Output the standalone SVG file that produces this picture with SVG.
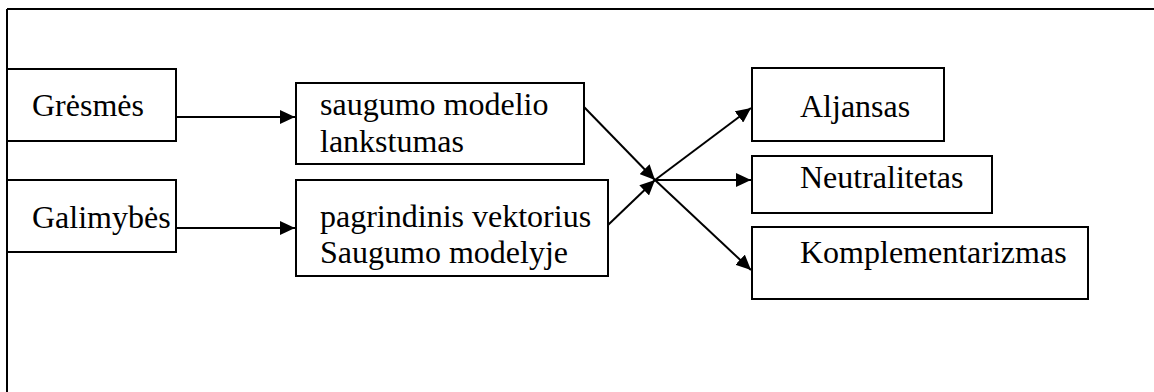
<svg xmlns="http://www.w3.org/2000/svg" width="1154" height="392" viewBox="0 0 1154 392">
<style>
.box{fill:#fff;stroke:#000;stroke-width:2}
.t{font-family:'Liberation Serif','Times New Roman',Times,'DejaVu Serif',serif;font-size:32px;fill:#000}
.c{stroke:#000;stroke-width:2;fill:none;marker-end:url(#ah)}
</style>
<defs>
<marker id="ah" markerUnits="userSpaceOnUse" markerWidth="16" markerHeight="14" refX="15" refY="7" orient="auto">
<path d="M0,0 L15,7 L0,14 z" fill="#000"/>
</marker>
</defs>
<rect width="1154" height="392" fill="#fff"/>
<g id="frame" stroke="#000" stroke-width="2" fill="none">
<line x1="7" y1="9" x2="1154" y2="9"/>
<line x1="7" y1="9" x2="7" y2="392"/>
</g>
<g id="gresmes"><rect class="box" x="7" y="69" width="169" height="72"/><text class="t" x="32" y="116" font-family="Liberation Serif">Grėsmės</text></g>
<g id="galimybes"><rect class="box" x="7" y="180" width="169" height="72"/><text class="t" x="32" y="228" font-family="Liberation Serif">Galimybės</text></g>
<g id="lankstumas"><rect class="box" x="296" y="83" width="288" height="81"/><text class="t" x="320" y="115" font-family="Liberation Serif">saugumo modelio</text><text class="t" x="320" y="152" font-family="Liberation Serif">lankstumas</text></g>
<g id="vektorius"><rect class="box" x="296" y="180" width="312" height="96"/><text class="t" x="320" y="227" font-family="Liberation Serif">pagrindinis vektorius</text><text class="t" x="320" y="263" font-family="Liberation Serif">Saugumo modelyje</text></g>
<g id="aljansas"><rect class="box" x="752" y="68" width="192" height="73"/><text class="t" x="800" y="117" font-family="Liberation Serif">Aljansas</text></g>
<g id="neutralitetas"><rect class="box" x="752" y="156" width="240" height="57"/><text class="t" x="800" y="188" font-family="Liberation Serif">Neutralitetas</text></g>
<g id="komplementarizmas"><rect class="box" x="752" y="227" width="336" height="72"/><text class="t" x="800" y="263" font-family="Liberation Serif">Komplementarizmas</text></g>
<g id="connectors">
<line class="c" x1="176" y1="117" x2="295" y2="117"/>
<line class="c" x1="176" y1="228" x2="295" y2="228"/>
<line class="c" x1="584" y1="107" x2="655" y2="180"/>
<line class="c" x1="608" y1="225" x2="655" y2="180"/>
<line class="c" x1="655" y1="180" x2="751" y2="108"/>
<line class="c" x1="655" y1="180" x2="751" y2="180"/>
<line class="c" x1="655" y1="180" x2="751" y2="270"/>
</g>
</svg>
